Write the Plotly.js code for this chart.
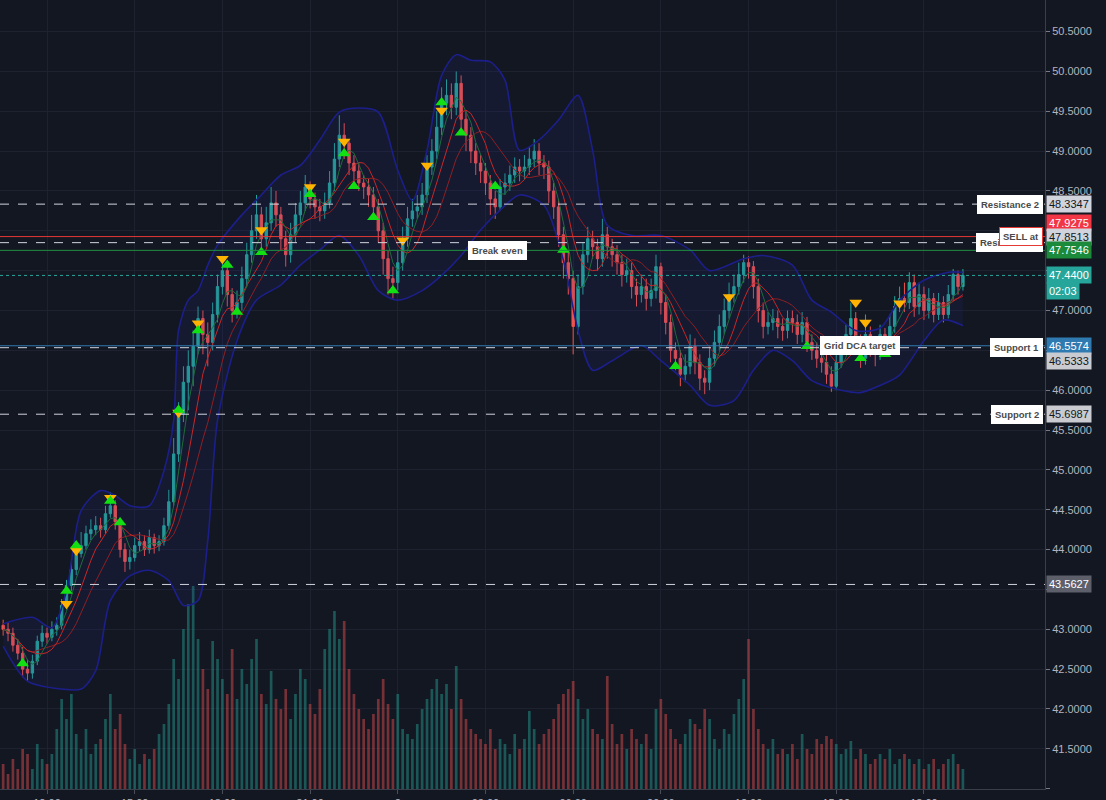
<!DOCTYPE html>
<html><head><meta charset="utf-8">
<script src="https://cdn.plot.ly/plotly-3.0.1.min.js"></script>
<style>html,body{margin:0;padding:0;background:#131722;}#chart{width:1106px;height:800px;}</style>
</head><body><div id="chart"></div>
<script>
// ---- DATA (10-minute candles from day 1 10:30 to day 2 19:20) ----
const open = [43.05,43.00,42.95,42.80,42.70,42.50,42.45,42.60,42.85,42.95,
42.90,43.00,43.05,43.30,43.55,43.75,43.95,44.05,44.20,44.25,
44.30,44.25,44.45,44.55,44.35,44.00,43.85,43.90,44.05,44.10,
44.00,44.15,44.05,44.10,44.30,44.60,45.20,45.70,46.10,46.30,
46.55,46.90,46.70,46.60,46.95,47.30,47.50,47.20,47.00,47.10,
47.40,47.70,48.00,48.20,47.90,48.10,48.35,48.20,47.90,47.70,
47.95,48.20,48.35,48.55,48.40,48.30,48.25,48.35,48.60,48.90,
49.20,49.10,48.85,48.75,48.60,48.55,48.45,48.30,48.00,47.65,
47.40,47.35,47.60,47.90,48.15,48.25,48.30,48.45,48.80,49.00,
49.30,49.60,49.70,49.55,49.85,49.40,49.20,49.00,48.85,48.75,
48.60,48.40,48.30,48.55,48.60,48.70,48.80,48.75,48.80,48.90,
49.00,48.85,48.80,48.50,48.30,47.95,47.60,47.40,46.80,47.30,
47.70,47.90,47.80,47.65,47.95,47.80,47.70,47.60,47.45,47.50,
47.30,47.20,47.30,47.15,47.25,47.55,47.10,46.85,46.50,46.40,
46.20,46.30,46.55,46.35,46.15,46.10,46.40,46.60,46.80,47.00,
47.20,47.30,47.45,47.60,47.55,47.30,47.00,46.80,46.85,46.90,
46.80,46.75,46.90,46.85,46.70,46.85,46.60,46.50,46.40,46.35,
46.20,46.05,46.35,46.55,46.70,46.90,46.60,46.40,46.70,46.55,
46.45,46.70,46.60,46.80,47.05,47.15,47.10,47.35,47.05,47.20,
47.00,47.15,46.95,47.10,46.95,47.20,47.45,47.30];
const close = [43.00,42.95,42.80,42.70,42.50,42.45,42.60,42.85,42.95,42.90,
43.00,43.05,43.30,43.55,43.75,43.95,44.05,44.20,44.25,44.30,
44.25,44.45,44.55,44.35,44.00,43.85,43.90,44.05,44.10,44.00,
44.15,44.05,44.10,44.30,44.60,45.20,45.70,46.10,46.30,46.55,
46.90,46.70,46.60,46.95,47.30,47.50,47.20,47.00,47.10,47.40,
47.70,48.00,48.20,47.90,48.10,48.35,48.20,47.90,47.70,47.95,
48.20,48.35,48.55,48.40,48.30,48.25,48.35,48.60,48.90,49.20,
49.10,48.85,48.75,48.60,48.55,48.45,48.30,48.00,47.65,47.40,
47.35,47.60,47.90,48.15,48.25,48.30,48.45,48.80,49.00,49.30,
49.60,49.70,49.55,49.85,49.40,49.20,49.00,48.85,48.75,48.60,
48.40,48.30,48.55,48.60,48.70,48.80,48.75,48.80,48.90,49.00,
48.85,48.80,48.50,48.30,47.95,47.60,47.40,46.80,47.30,47.70,
47.90,47.80,47.65,47.95,47.80,47.70,47.60,47.45,47.50,47.30,
47.20,47.30,47.15,47.25,47.55,47.10,46.85,46.50,46.40,46.20,
46.30,46.55,46.35,46.15,46.10,46.40,46.60,46.80,47.00,47.20,
47.30,47.45,47.60,47.55,47.30,47.00,46.80,46.85,46.90,46.80,
46.75,46.90,46.85,46.70,46.85,46.60,46.50,46.40,46.35,46.20,
46.05,46.35,46.55,46.70,46.90,46.60,46.40,46.70,46.55,46.45,
46.70,46.60,46.80,47.05,47.15,47.10,47.35,47.05,47.20,47.00,
47.15,46.95,47.10,46.95,47.20,47.45,47.30,47.44];
const high = [43.12,43.08,43.02,42.88,42.78,42.62,42.68,42.92,43.05,43.02,
43.10,43.15,43.38,43.62,43.85,44.05,44.22,44.30,44.38,44.42,
44.40,44.55,44.72,44.62,44.40,44.08,44.00,44.15,44.22,44.18,
44.25,44.20,44.18,44.40,44.75,45.40,45.85,46.30,46.50,46.75,
47.05,47.00,46.85,47.10,47.45,47.68,47.58,47.28,47.25,47.55,
47.85,48.20,48.45,48.30,48.30,48.55,48.50,48.30,48.00,48.10,
48.35,48.50,48.70,48.62,48.48,48.40,48.48,48.75,49.10,49.45,
49.35,49.15,48.95,48.85,48.70,48.65,48.55,48.40,48.10,47.75,
47.55,47.75,48.05,48.30,48.40,48.45,48.60,48.95,49.15,49.50,
49.80,49.90,49.85,50.00,49.95,49.50,49.30,49.10,48.95,48.85,
48.70,48.50,48.65,48.72,48.82,48.92,48.90,48.95,49.05,49.15,
49.10,48.95,48.88,48.60,48.40,48.05,47.75,47.50,47.45,47.85,
48.05,48.00,47.90,48.15,48.05,47.90,47.82,47.70,47.65,47.60,
47.40,47.45,47.40,47.40,47.70,47.60,47.20,46.95,46.60,46.50,
46.45,46.70,46.65,46.45,46.25,46.55,46.75,46.95,47.15,47.35,
47.45,47.60,47.70,47.68,47.62,47.40,47.10,46.98,47.02,47.00,
46.90,47.00,47.00,46.95,46.98,46.92,46.70,46.60,46.50,46.45,
46.30,46.45,46.68,46.82,47.10,46.98,46.70,46.95,46.80,46.62,
46.82,46.78,46.95,47.18,47.30,47.35,47.48,47.45,47.35,47.30,
47.28,47.22,47.22,47.18,47.32,47.52,47.50,47.52];
const low = [42.92,42.85,42.72,42.62,42.40,42.35,42.38,42.55,42.78,42.82,
42.85,42.92,43.00,43.25,43.48,43.68,43.90,44.00,44.12,44.18,
44.15,44.20,44.40,44.25,43.90,43.72,43.75,43.85,43.98,43.92,
43.95,43.95,43.98,44.05,44.25,44.55,45.10,45.60,45.75,46.05,
46.45,46.45,46.30,46.50,46.85,47.20,47.05,46.85,46.90,47.00,
47.30,47.60,47.90,47.75,47.80,48.00,48.05,47.75,47.55,47.60,
47.85,48.10,48.25,48.28,48.15,48.12,48.15,48.28,48.50,48.80,
48.90,48.70,48.60,48.50,48.40,48.30,48.15,47.85,47.45,47.20,
47.15,47.25,47.50,47.80,48.05,48.15,48.20,48.35,48.70,48.90,
49.20,49.45,49.40,49.45,49.25,49.00,48.85,48.70,48.60,48.45,
48.20,48.15,48.25,48.45,48.50,48.60,48.62,48.65,48.70,48.80,
48.70,48.65,48.35,48.15,47.80,47.40,47.20,46.45,46.70,47.20,
47.60,47.65,47.50,47.55,47.65,47.55,47.45,47.30,47.35,47.15,
47.05,47.10,47.00,47.05,47.15,46.95,46.70,46.35,46.25,46.05,
46.10,46.20,46.20,46.00,45.95,46.00,46.30,46.50,46.70,46.90,
47.10,47.20,47.35,47.40,47.15,46.85,46.65,46.70,46.75,46.65,
46.62,46.65,46.72,46.58,46.60,46.48,46.38,46.28,46.22,46.08,
45.98,46.00,46.28,46.45,46.60,46.45,46.28,46.32,46.42,46.30,
46.38,46.48,46.52,46.72,46.98,46.98,47.02,46.92,46.95,46.88,
46.90,46.85,46.88,46.85,46.90,47.12,47.20,47.25];
const volume = [25,15,30,20,40,35,20,45,30,25,
35,60,90,70,95,55,40,60,35,45,
50,70,95,60,75,45,30,40,25,35,
30,40,55,65,85,130,110,160,185,203,
150,120,100,148,130,110,95,140,90,120,
105,130,150,95,85,118,90,80,100,70,
95,120,110,85,75,100,140,160,178,150,
168,120,95,80,70,60,75,90,110,85,
70,95,60,55,50,65,80,90,100,110,
95,105,80,123,90,70,60,55,50,45,
60,40,50,45,35,55,40,50,78,60,
45,55,60,70,85,95,100,108,90,70,
80,60,55,50,113,65,45,55,40,60,
50,45,55,40,80,90,75,60,50,45,
55,70,65,60,80,70,50,40,60,55,
75,90,110,150,80,60,45,40,50,35,
40,35,45,30,55,40,35,50,45,53,
50,45,35,40,48,30,40,35,25,30,
35,30,40,25,30,35,30,25,30,20,
25,30,20,25,30,35,25,20];
// Bollinger band outline (candle index, price)
const upperIdx = [0,6,10,13,16,20,23,26,30,33,35,36,38,40,42,44,49,53,57,61,65,69,73,77,81,84,87,90,93,96,100,103,106,110,114,118,121,124,129,135,141,145,152,156,162,166,170,175,180,184,189,194,197];
const upperVal = [43.07,43.15,43.02,43.48,44.49,44.74,44.68,44.55,44.55,44.99,45.62,46.75,47.13,47.25,47.57,47.82,48.20,48.45,48.70,48.82,49.14,49.49,49.54,49.49,48.76,48.38,49.01,49.95,50.21,50.14,50.12,49.89,49.01,49.14,49.39,49.70,49.01,48.07,47.94,47.94,47.76,47.50,47.65,47.69,47.57,47.13,46.98,46.75,46.78,47.13,47.38,47.48,47.48];
const lowerIdx = [0,5,12,16,19,22,26,30,34,37,40,42,44,48,52,57,61,65,69,73,77,81,86,90,94,98,102,106,111,115,118,121,125,131,135,141,145,150,154,158,162,166,172,176,180,184,189,193,197];
const lowerVal = [42.79,42.35,42.25,42.25,42.48,43.36,43.67,43.74,43.61,43.30,43.36,44.11,45.62,46.62,47.13,47.32,47.57,47.76,47.94,47.69,47.25,47.13,47.25,47.44,47.69,48.01,48.26,48.45,48.32,47.63,46.75,46.25,46.37,46.56,46.37,46.06,45.81,45.87,46.25,46.50,46.37,46.12,46.00,45.97,46.06,46.19,46.62,46.88,46.81];
// Bot signals
const buyIdx = [4,13,15,22,24,36,40,46,48,53,63,70,72,76,80,90,94,101,115,138,165,176,181];
const buyPrice = [42.57,43.48,44.05,44.61,44.34,45.75,46.75,47.57,46.98,47.73,48.46,48.97,48.56,48.17,47.25,49.61,49.23,48.56,47.76,46.30,46.55,46.40,46.45];
const sellIdx = [13,15,22,36,40,45,53,63,70,82,87,90,149,175,177,184];
const sellPrice = [43.32,43.99,44.65,45.72,46.84,47.65,48.01,48.55,49.12,47.88,48.82,49.51,47.17,47.10,46.85,47.09];
// Horizontal levels
const levelNames = ["Resistance 2","SELL at","Resistance 1","Break even","Last","Grid DCA target","Support 1","Support 2","Low"];
const levelValues = [48.3347,47.9275,47.8513,47.7546,47.4400,46.5574,46.5333,45.6987,43.5627];
const countdown = "02:03";
const tickTimes = ["2020-01-01 12:00","2020-01-01 15:00","2020-01-01 18:00","2020-01-01 21:00","2020-01-02 00:00","2020-01-02 03:00","2020-01-02 06:00","2020-01-02 09:00","2020-01-02 12:00","2020-01-02 15:00","2020-01-02 18:00"];
const tickLabels = ["12:00","15:00","18:00","21:00","2","03:00","06:00","09:00","12:00","15:00","18:00"];
// Price axis ticks (labels hidden by the price tags are left blank)
const priceTicks = [41.0,41.5,42.0,42.5,43.0,43.5,44.0,44.5,45.0,45.5,46.0,46.5,47.0,47.5,48.0,48.5,49.0,49.5,50.0,50.5];
const priceTickText = ["","41.5000","42.0000","42.5000","43.0000","","44.0000","44.5000","45.0000","45.5000","46.0000","","47.0000","","","48.5000","49.0000","49.5000","50.0000","50.5000"];

// ---- build time axis ----
function pad(n){return (n<10?"0":"")+n;}
const times = [];
(function(){
  const base = 10*60+30;
  for (let i=0;i<close.length;i++){
    const m = base + i*10;
    const d = 1 + Math.floor(m/1440);
    const mm = m % 1440;
    times.push("2020-01-0"+d+" "+pad(Math.floor(mm/60))+":"+pad(mm%60));
  }
})();
function sma(arr,n){
  return arr.map((v,i)=>{const s=Math.max(0,i-n+1);let t=0;for(let k=s;k<=i;k++)t+=arr[k];return t/(i-s+1);});
}
const UP='#26a69a', DN='#ef5350';
const volColors = close.map((c,i)=> c>=open[i] ? 'rgba(38,166,154,0.45)' : 'rgba(239,83,80,0.45)');

const traces = [
  {type:'bar', x:times, y:volume, marker:{color:volColors, line:{width:0}}, yaxis:'y', hoverinfo:'skip', showlegend:false},
  {type:'scatter', mode:'lines', x:upperIdx.map(i=>times[i]), y:upperVal, yaxis:'y2', line:{color:'#1c1f8a', width:1.6, shape:'spline', smoothing:0.8}, hoverinfo:'skip', showlegend:false},
  {type:'scatter', mode:'lines', x:lowerIdx.map(i=>times[i]), y:lowerVal, yaxis:'y2', line:{color:'#1c1f8a', width:1.6, shape:'spline', smoothing:0.8}, fill:'tonexty', fillcolor:'rgba(40,45,150,0.13)', hoverinfo:'skip', showlegend:false},
  {type:'scatter', mode:'lines', x:times, y:sma(close,12), yaxis:'y2', line:{color:'#8e1f24', width:1}, hoverinfo:'skip', showlegend:false},
  {type:'scatter', mode:'lines', x:times, y:sma(close,7), yaxis:'y2', line:{color:'#c62828', width:1}, hoverinfo:'skip', showlegend:false},
  {type:'scatter', mode:'lines', x:times, y:sma(close,4), yaxis:'y2', line:{color:'#1e6b3a', width:1}, hoverinfo:'skip', showlegend:false},
  {type:'candlestick', x:times, open:open, high:high, low:low, close:close, yaxis:'y2',
   increasing:{line:{color:UP,width:1}, fillcolor:UP}, decreasing:{line:{color:DN,width:1}, fillcolor:DN},
   whiskerwidth:0, hoverinfo:'skip', showlegend:false},
  {type:'scatter', mode:'markers', x:sellIdx.map(i=>times[i]), y:sellPrice, yaxis:'y2', marker:{symbol:'triangle-down', size:11, color:'#ffb300', line:{width:0}}, hoverinfo:'skip', showlegend:false},
  {type:'scatter', mode:'markers', x:buyIdx.map(i=>times[i]), y:buyPrice, yaxis:'y2', marker:{symbol:'triangle-up', size:11, color:'#12e012', line:{width:0}}, hoverinfo:'skip', showlegend:false}
];

const L = levelValues;
function hline(v, color, dash){
  return {type:'line', xref:'paper', x0:0, x1:1, yref:'y2', y0:v, y1:v, line:{color:color, width:1, dash:dash||'solid'}};
}
const shapes = [
  hline(L[0],'#d1d4dc','dash'),
  hline(L[1],'#e53935'),
  hline(L[2],'#d1d4dc','dash'),
  hline(L[3],'#1f8f3f'),
  hline(L[4],'#26a69a','dot'),
  hline(L[5],'#2f7ab0'),
  hline(L[6],'#d1d4dc','dash'),
  hline(L[7],'#d1d4dc','dash'),
  hline(L[8],'#d1d4dc','dash')
];

const F = "Liberation Sans, Arial, sans-serif";
function priceTag(v, bg, fg, yshift, text){
  return {xref:'paper', x:1, xanchor:'left', xshift:1, yref:'y2', y:v, yanchor:'middle', yshift:yshift||0,
    text: text || v.toFixed(4), showarrow:false, bgcolor:bg, font:{family:F, size:11, color:fg}, borderpad:2};
}
function boxLabel(xv, xref, xanchor, v, text, border, yshift){
  return {xref:xref, x:xv, xanchor:xanchor, xshift:(xref==='paper'?-2:0), yref:'y2', y:v, yanchor:'middle', yshift:yshift||0,
    text:'<b>'+text+'</b>', showarrow:false, bgcolor:'#ffffff', bordercolor:border||'#ffffff', borderwidth:1, borderpad:3,
    font:{family:F, size:9.5, color:'#4a4a4a'}};
}
const annotations = [
  boxLabel(1,'paper','right',L[0],levelNames[0]),
  boxLabel(1,'paper','right',L[2],levelNames[2]),
  boxLabel(1,'paper','right',L[1],levelNames[1],'#e53935'),
  boxLabel("2020-01-02 03:25",'x','center',L[3],levelNames[3]),
  boxLabel("2020-01-02 15:49",'x','center',L[5],levelNames[5]),
  boxLabel(1,'paper','right',L[6],levelNames[6]),
  boxLabel(1,'paper','right',L[7],levelNames[7]),
  priceTag(L[0],'#d1d4dc','#131722'),
  priceTag(L[1],'#f23645','#ffffff',14),
  priceTag(L[2],'#d1d4dc','#131722',6),
  priceTag(L[3],'#1b8a3a','#ffffff'),
  priceTag(L[4],'#26a69a','#ffffff'),
  priceTag(L[4],'#26a69a','#ffffff',-16,countdown),
  priceTag(L[5],'#2f7ab0','#ffffff'),
  priceTag(L[6],'#c9cbd1','#131722',-13),
  priceTag(L[7],'#c9cbd1','#131722'),
  priceTag(L[8],'#5d606b','#ffffff')
];

const layout = {
  width:1106, height:800,
  margin:{l:0, r:61, t:0, b:11, pad:0},
  paper_bgcolor:'#131722', plot_bgcolor:'#131722',
  showlegend:false, bargap:0.45, dragmode:false,
  xaxis:{type:'date', range:["2020-01-01 10:23:30","2020-01-02 22:08:30"], rangeslider:{visible:false},
    tickmode:'array', tickvals:tickTimes, ticktext:tickLabels, ticks:'outside', ticklen:4, tickcolor:'#4a4e59',
    tickfont:{family:F, size:11, color:'#b2b5be'}, showgrid:true, gridcolor:'#1d2130', gridwidth:1,
    showline:true, linecolor:'#3a3e4a', linewidth:1, zeroline:false, fixedrange:true},
  yaxis:{range:[0,789], visible:false, showgrid:false, zeroline:false, fixedrange:true},
  yaxis2:{overlaying:'y', side:'right', range:[40.996,50.896], tickmode:'array', tickvals:priceTicks, ticktext:priceTickText,
    ticks:'outside', ticklen:4, tickcolor:'#787b86', tickfont:{family:F, size:11, color:'#b2b5be'},
    showgrid:true, gridcolor:'#1d2130', gridwidth:1, showline:true, linecolor:'#3a3e4a', linewidth:1,
    zeroline:false, fixedrange:true},
  shapes:shapes, annotations:annotations
};
Plotly.newPlot('chart', traces, layout, {displayModeBar:false, staticPlot:true});
</script></body></html>
